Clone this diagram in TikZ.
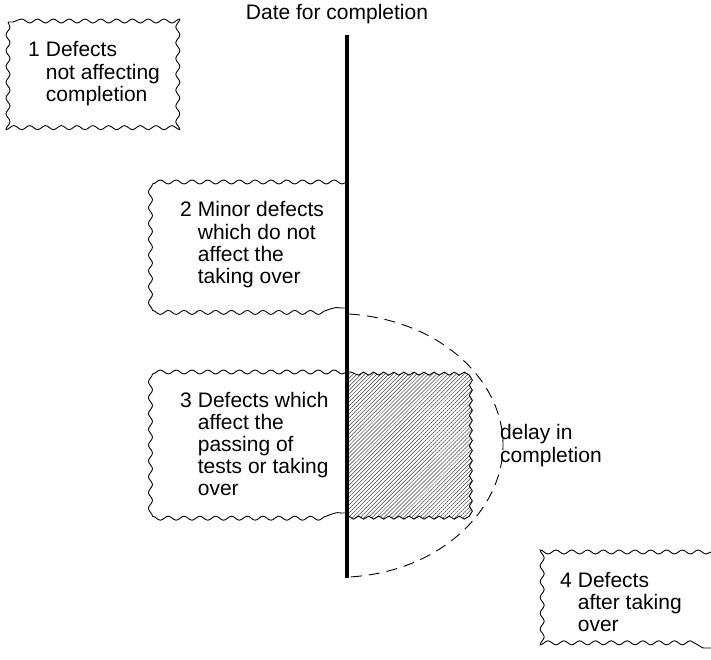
\documentclass[tikz,border=0pt]{standalone}
\usepackage{fontspec}
\setmainfont{Liberation Sans}
\usetikzlibrary{decorations.pathmorphing,patterns.meta}

\tikzset{
  wavy/.style={decorate, decoration={snake, segment length=15.8pt, amplitude=2pt}, line width=0.9pt},
  finewavy/.style={decorate, decoration={snake, segment length=10.07pt, amplitude=1.5pt}, line width=0.9pt},
  boxtext/.style={font=\fontsize{21}{22.2}\selectfont, inner sep=0pt}
}

\begin{document}
\begin{tikzpicture}[x=1pt, y=-1pt]
  \useasboundingbox (0,0) rectangle (711,660);
  \node[boxtext] (datelabel) at (337,14) {Date for completion};

  % 1
  \draw[wavy] (8,22) rectangle (182,128);
  \node[boxtext, anchor=base west] (defects1) at (28,57)
    {\begin{tabular}[t]{@{}l@{\hspace{6pt}}l@{}}1 & Defects\\ & not affecting\\ & completion\end{tabular}};

  % 2
  \draw[wavy] (347,182) -- (157,182) -- (157,308) -- (347,308);
  \node[boxtext, anchor=base west] (defects2) at (180,217)
    {\begin{tabular}[t]{@{}l@{\hspace{6pt}}l@{}}2 & Minor defects\\ & which do not\\ & affect the\\ & taking over\end{tabular}};

  % 3
  \draw[finewavy, pattern={Lines[angle=45, distance=2.8pt, line width=0.5pt]}, pattern color=black!75]
    (347,372) rectangle (468,513);
  \draw[wavy] (347,372) -- (157,372) -- (157,513) -- (347,513);
  \node[boxtext, anchor=base west] (defects3) at (180,407)
    {\begin{tabular}[t]{@{}l@{\hspace{6pt}}l@{}}3 & Defects which\\ & affect the\\ & passing of\\ & tests or taking\\ & over\end{tabular}};

  % delay
  \draw[dash pattern=on 11pt off 7pt, line width=0.9pt]
    (349,314) .. controls (440,320) and (503,380) .. (503,445)
              .. controls (503,510) and (440,572) .. (349,577);
  \node[boxtext, anchor=base west, align=left] (delay) at (500,462) {delay in\\completion};

  % 4
  \draw[wavy] (711,552) -- (545,552) -- (545,648) -- (711,648);
  \node[boxtext, anchor=base west] (defects4) at (560,587)
    {\begin{tabular}[t]{@{}l@{\hspace{6pt}}l@{}}4 & Defects\\ & after taking\\ & over\end{tabular}};

  % date for completion
  \draw[line width=3.5pt] (347,35) coordinate (linetop) -- (347,578) coordinate (lineend);
\end{tikzpicture}
\end{document}
